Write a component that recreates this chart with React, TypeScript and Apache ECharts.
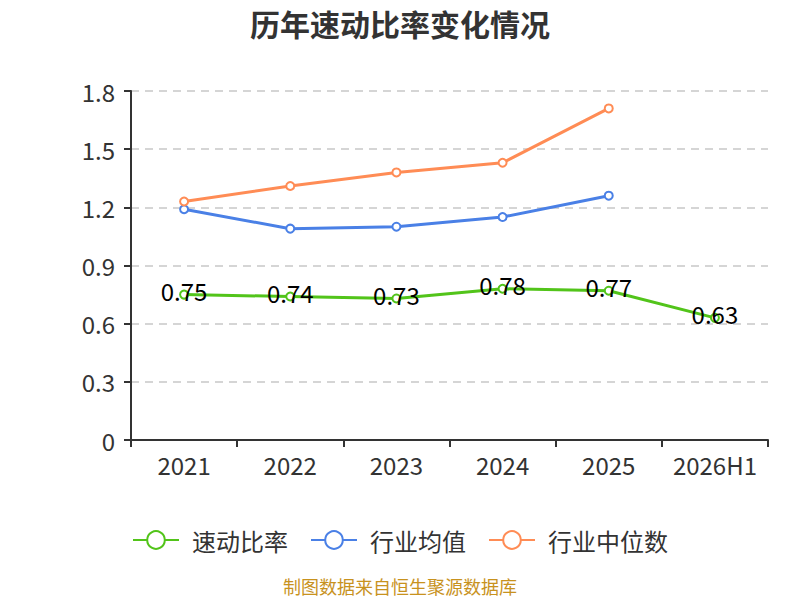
import { useEffect, useRef } from 'react';
import * as echarts from 'echarts';

const categories = ['2021', '2022', '2023', '2024', '2025', '2026H1'];
const quickRatio = [0.75, 0.74, 0.73, 0.78, 0.77, 0.63];
const industryMean = [1.19, 1.09, 1.1, 1.15, 1.26];
const industryMedian = [1.23, 1.31, 1.38, 1.43, 1.71];

const FONT = '"Noto Sans CJK SC", "Noto Sans", sans-serif';

const App = () => {
  const chartRef = useRef<HTMLDivElement>(null);

  useEffect(() => {
    if (!chartRef.current) return;
    document.body.style.margin = '0';
    const chart = echarts.init(chartRef.current, undefined, { renderer: 'svg' });

    const lineSeries = (name: string, data: number[], color: string, showLabel = false) => ({
      name,
      type: 'line',
      data,
      symbol: 'emptyCircle',
      symbolSize: 8,
      lineStyle: { color, width: 3 },
      itemStyle: { color, borderWidth: 1.5 },
      label: {
        show: showLabel,
        position: 'inside',
        offset: [0, -4],
        fontSize: 24,
        color: '#000',
        fontFamily: FONT,
      },
    });

    chart.setOption({
      animation: false,
      textStyle: { fontFamily: FONT },
      title: {
        text: '历年速动比率变化情况',
        left: 'center',
        top: 3,
        textStyle: { fontSize: 30, fontWeight: 'bold', color: '#333', fontFamily: FONT },
      },
      grid: { left: 131, right: 32, top: 91, bottom: 160 },
      legend: {
        top: 523,
        left: 'center',
        itemWidth: 46,
        itemHeight: 22,
        itemGap: 22,
        textStyle: { fontSize: 24, color: '#333', fontFamily: FONT, padding: [0, 0, 0, 8] },
        data: ['速动比率', '行业均值', '行业中位数'],
      },
      xAxis: {
        type: 'category',
        data: categories,
        axisLine: { lineStyle: { color: '#333', width: 2 } },
        axisTick: { show: true, interval: 0, length: 7, lineStyle: { color: '#333', width: 2 } },
        axisLabel: { interval: 0, fontSize: 24, color: '#333', margin: 12, fontFamily: FONT },
      },
      yAxis: {
        type: 'value',
        min: 0,
        max: 1.8,
        interval: 0.3,
        axisLine: { show: true, lineStyle: { color: '#333', width: 2 } },
        axisTick: { show: true, length: 7, lineStyle: { color: '#333', width: 2 } },
        axisLabel: { fontSize: 24, color: '#333', margin: 16, fontFamily: FONT },
        splitLine: { lineStyle: { color: '#c8c8c8', type: [8, 6], width: 1.5 } },
      },
      series: [
        lineSeries('速动比率', quickRatio, '#52c41a', true),
        lineSeries('行业均值', industryMean, '#4a80e6'),
        lineSeries('行业中位数', industryMedian, '#ff8c55'),
      ],
      graphic: [
        {
          type: 'text',
          left: 'center',
          top: 577,
          style: {
            text: '制图数据来自恒生聚源数据库',
            fontSize: 18,
            fill: '#c8921e',
            fontFamily: FONT,
          },
        },
      ],
    });

    return () => {
      chart.dispose();
    };
  }, []);

  return <div ref={chartRef} style={{ width: 800, height: 600 }} />;
};

export default App;
